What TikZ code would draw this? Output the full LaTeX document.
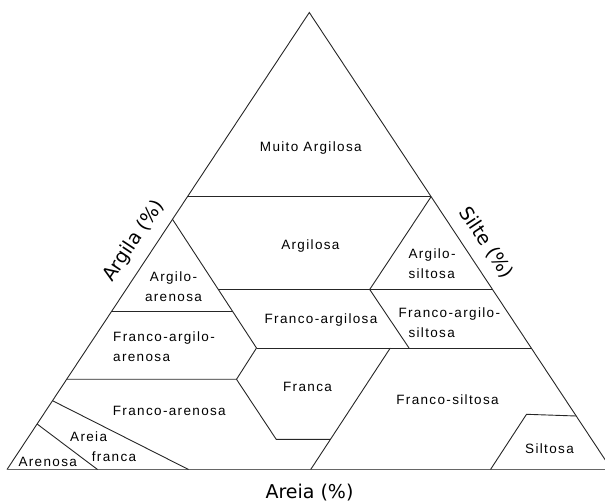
\documentclass[tikz,border=0pt]{standalone}
\usepackage{fontspec}
\setmainfont{Liberation Sans}[LetterSpace=10]
\newfontfamily\axisfont{DejaVu Sans}
\begin{document}
\begin{tikzpicture}[x=1pt,y=-1pt,
  edge/.style={line width=0.9pt, draw=black!85, line join=miter},
  baseedge/.style={line width=1.4pt, draw=black!60},
  lbl/.style={inner sep=0pt, font=\fontsize{13.5}{19.5}\selectfont, text=black},
  axislbl/.style={inner sep=0pt, font=\axisfont\fontsize{19}{22}\selectfont, text=black}]
\useasboundingbox (0,0) rectangle (605,502);
\clip (0,0) rectangle (605,502);
% triangle corners
\coordinate (L) at (7,469.5);
\coordinate (T) at (309.3,12.5);
\coordinate (R) at (611.6,469.5);
% boundary points
\coordinate (m1) at (187.5,196.7);
\coordinate (m2) at (431.1,196.7);
\coordinate (A) at (172.5,219.3);
\coordinate (B) at (218.3,289.5);
\coordinate (C) at (233.2,311);
\coordinate (D) at (256.5,348);
\coordinate (E) at (236.5,379.3);
\coordinate (F) at (276.2,439.3);
\coordinate (G) at (330.5,439.3);
\coordinate (K) at (390.3,348);
\coordinate (Lb) at (310.7,469.5);
\coordinate (M) at (369.7,289.5);
\coordinate (N) at (409,348);
\coordinate (r40) at (492.5,289.5);
\coordinate (r27) at (531.2,348);
\coordinate (l35) at (111.8,311);
\coordinate (l20) at (66.7,379.3);
\coordinate (l15) at (52.5,400.7);
\coordinate (b30) at (188.5,469.5);
\coordinate (l10) at (37.1,424);
\coordinate (b15) at (97.5,469.5);
\coordinate (Q) at (490.5,469.5);
\coordinate (Rs) at (526.5,414.3);
\coordinate (S) at (576.2,416);
% outline
\draw[edge] (L) -- (T) -- (R);
\draw[baseedge] (L) -- (R);
% class boundaries
\draw[edge] (m1) -- (m2);
\draw[edge] (A) -- (D);
\draw[edge] (B) -- (r40);
\draw[edge] (l35) -- (C);
\draw[edge] (D) -- (r27);
\draw[edge] (D) -- (E);
\draw[edge] (l20) -- (E) -- (F) -- (G);
\draw[edge] (Lb) -- (K);
\draw[edge] (m2) -- (M) -- (N);
\draw[edge] (l15) -- (b30);
\draw[edge] (l10) -- (b15);
\draw[edge] (Q) -- (Rs) -- (S);
% labels
\node[lbl, anchor=base] (muito) at (310.8,151.7) {Muito Argilosa};
\node[lbl, anchor=base] (argilosa) at (310.4,250) {Argilosa};
\node[lbl, anchor=north, align=center] (aa) at (173.5,272) {Argilo-\\arenosa};
\node[lbl, anchor=north west, align=left] (faa) at (113,332) {Franco-argilo-\\arenosa};
\node[lbl, anchor=north west, align=left] (as) at (408.3,248.6) {Argilo-\\siltosa};
\node[lbl, anchor=north west, align=left] (fas) at (398.3,307.6) {Franco-argilo-\\\hspace*{10pt}siltosa};
\node[lbl, anchor=base] (fa) at (321,324) {Franco-argilosa};
\node[lbl, anchor=base] (franca) at (307.5,391.7) {Franca};
\node[lbl, anchor=base] (fs) at (447.5,405) {Franco-siltosa};
\node[lbl, anchor=base] (silt) at (549.5,453.3) {Siltosa};
\node[lbl, anchor=base west] (fare) at (112.7,415.7) {Franco-arenosa};
\node[lbl, anchor=north west, align=left] (af) at (70,432) {Areia\\\hspace*{21.7pt}franca};
\node[lbl, anchor=base west] (aren) at (18.3,466.7) {Arenosa};
% axis titles
\node[axislbl, rotate=56.5] (argila) at (134,241) {Argila (\%)};
\node[axislbl, rotate=-56.5] (silte) at (486,242.5) {Silte (\%)};
\node[axislbl, anchor=base] (areia) at (309.5,498) {Areia (\%)};
\end{tikzpicture}
\end{document}
